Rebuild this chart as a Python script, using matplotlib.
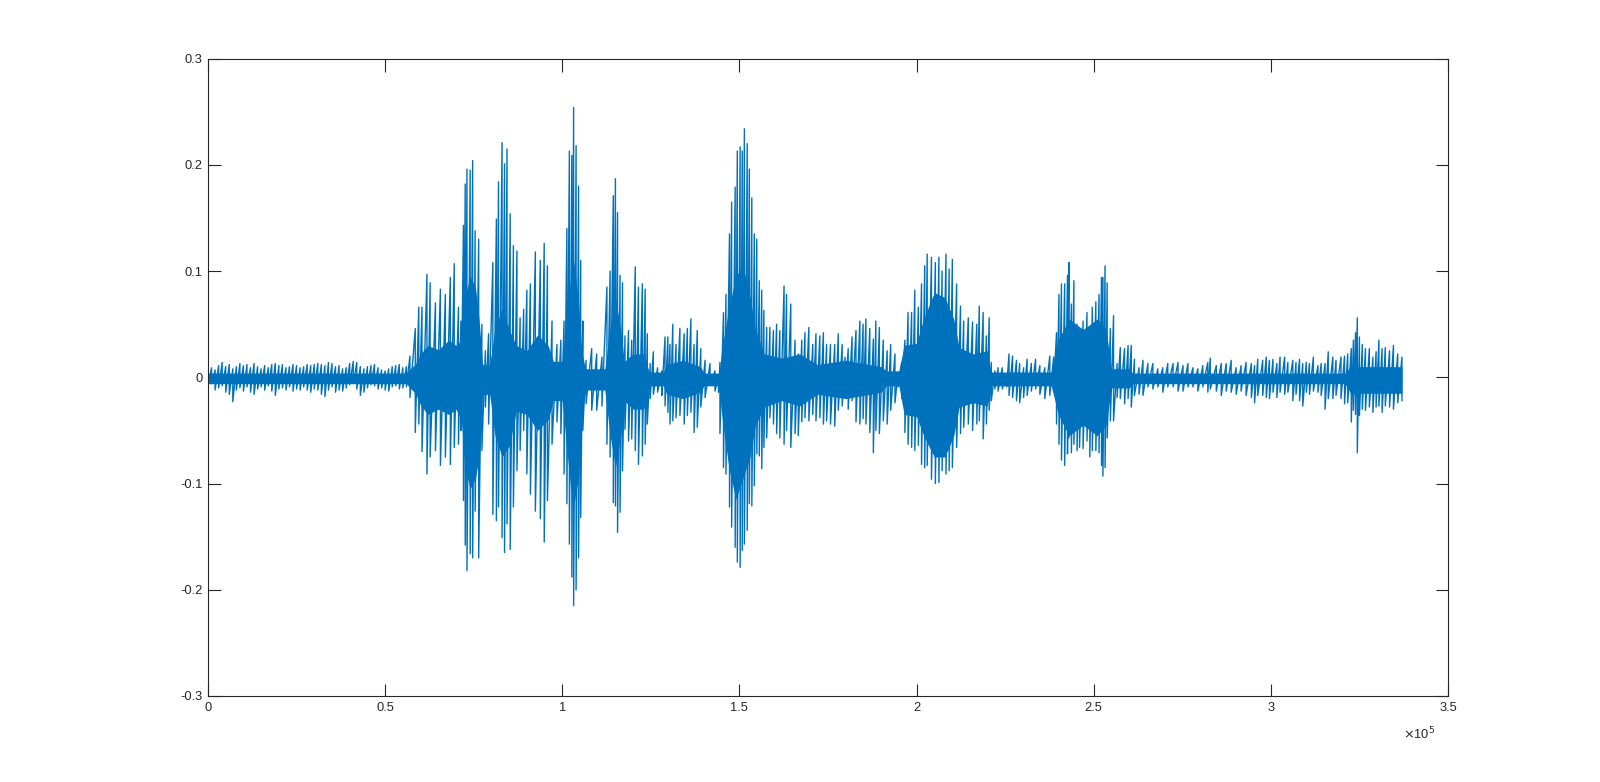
"""
Waveform plot in MATLAB default style: one audio channel vs. sample index.
"""

import matplotlib
matplotlib.use("Agg")
import matplotlib.pyplot as plt
import numpy as np

# Spike readings: sample position (thousands of samples), local max and local min
sample_k = [
    0, 1, 2, 3, 4, 5, 6, 7, 8, 9, 10, 11, 12, 13, 14, 15, 16, 17, 18, 19,
    20, 21, 22, 23, 24, 25, 26, 27, 28, 29, 30, 31, 32, 33, 34, 35, 36, 37, 38, 39,
    40, 41, 42, 43, 44, 45, 46, 47, 48, 49, 50, 51, 52, 53, 54, 55, 56, 57,
    58.5, 59.5, 60.4, 61.8, 62.7, 64.2, 65.6, 67.0, 68.4, 69.5, 70.7, 71.4, 72.1, 72.6,
    73.1, 74.0, 74.7, 75.4, 76.4, 77.3, 78.3, 79.2, 80.4, 81.4, 82.0, 83.0, 83.7, 84.4,
    85.3, 86.2, 87.2, 88.1, 89.1, 90.0, 91.0, 92.4, 93.8, 94.9, 95.8, 97.1, 98.5, 99.6,
    100.5, 101.3, 102.0, 102.7, 103.2, 103.9, 104.6, 105.2, 105.8, 106.7, 108.3, 109.7,
    111.2, 112.6,
    113.5, 114.4, 115.0, 115.6, 116.3, 117.0, 117.7, 118.7, 119.6, 120.6, 121.5, 122.6,
    123.4, 124.0, 124.8, 125.7, 126.9, 128.1, 129.0, 129.8, 130.4, 131.2, 132.1, 133.2,
    134.4, 135.3, 136.3, 137.2, 138.1, 139.1, 140.3, 141.7, 143.1, 144.1, 144.5, 145.5,
    146.2, 147.2, 147.8, 148.8, 149.4, 150.2, 150.8, 151.4, 152.2, 152.8, 153.5, 154.2,
    154.9, 155.6, 156.3, 156.9, 157.7, 158.6, 159.6, 160.5, 161.4, 162.6, 163.3, 164.5,
    165.7,
    166.6, 167.6, 168.5, 169.6, 170.7, 171.6, 172.7, 173.7, 174.6, 175.7, 176.9, 177.9,
    179.0, 179.8, 180.7, 181.8, 182.9, 184.0, 184.9, 185.7, 186.8, 187.8, 188.5, 189.5,
    190.6, 191.7, 192.7, 193.9, 194.8, 195.8, 196.7, 197.6, 198.6, 199.5, 200.5, 201.4,
    202.3, 203.0, 204.2, 205.3, 206.3, 207.2, 208.3, 209.2, 210.1, 211.3, 212.4, 213.3,
    214.6, 215.8, 217.0, 217.7, 218.8, 219.7, 220.5,
    221.1, 222.1, 223.0, 224.2, 225.4, 226.1, 227.1, 228.2, 229.1, 230.2, 231.2, 232.4,
    233.6, 234.8, 236.2, 237.6, 238.7, 239.5, 240.2, 240.9, 241.8, 242.6, 243.0, 243.7,
    244.4, 245.3, 246.0, 247.0, 248.1, 248.9, 249.6, 250.6, 251.5, 252.2, 252.6, 253.2,
    253.8, 254.7, 255.6, 256.6, 257.5, 258.7, 259.7, 260.6, 261.5, 262.8, 263.9, 265.3,
    266.7, 268.1, 269.5, 270.9, 272.4, 273.8,
    275.2, 276.6, 278.0, 279.4, 280.8, 282.2, 282.9, 284.6, 286.0, 287.4, 288.8, 290.2,
    291.6, 293.0, 294.5, 295.4, 296.3, 297.7, 298.7, 299.6, 300.6, 301.7, 302.6, 303.9,
    304.8, 306.2, 307.1, 308.1, 309.0, 310.0, 310.9, 312.0, 313.3, 314.2, 315.3, 316.2,
    317.5, 318.4, 319.8, 320.8, 321.7, 322.7, 323.3, 323.9, 324.4, 325.0, 325.8, 326.7,
    327.8, 328.8, 329.7, 330.5, 331.4, 332.3, 333.5, 334.6, 335.8, 337.0,
]

env_hi = [
    0.006, 0.009, 0.007, 0.011, 0.014, 0.010, 0.012, 0.008, 0.010, 0.013, 0.011, 0.012,
    0.009, 0.013, 0.010, 0.008, 0.011, 0.009, 0.012, 0.013, 0.011, 0.012, 0.009, 0.010,
    0.012, 0.011, 0.009, 0.010, 0.012, 0.011, 0.012, 0.013, 0.012, 0.011, 0.014, 0.013,
    0.010, 0.011, 0.008, 0.009, 0.013, 0.015, 0.014, 0.010, 0.008, 0.010, 0.011, 0.012,
    0.009, 0.007, 0.006, 0.008, 0.010, 0.011, 0.012, 0.009, 0.010, 0.020,
    0.046, 0.066, 0.066, 0.097, 0.089, 0.070, 0.083, 0.078, 0.094, 0.107, 0.066, 0.053,
    0.143, 0.182, 0.196, 0.195, 0.204, 0.138, 0.130, 0.050, 0.025, 0.041, 0.108, 0.149,
    0.184, 0.221, 0.201, 0.215, 0.154, 0.124, 0.119, 0.056, 0.064, 0.082, 0.088, 0.118,
    0.110, 0.126, 0.105, 0.053, 0.031, 0.035, 0.053, 0.140, 0.213, 0.209, 0.254, 0.218,
    0.180, 0.110, 0.053, 0.016, 0.027, 0.022, 0.019, 0.085,
    0.100, 0.171, 0.187, 0.155, 0.096, 0.089, 0.039, 0.044, 0.035, 0.104, 0.085, 0.088,
    0.083, 0.041, 0.013, 0.024, 0.009, 0.006, 0.038, 0.038, 0.031, 0.050, 0.031, 0.046,
    0.041, 0.046, 0.055, 0.031, 0.044, 0.027, 0.016, 0.013, 0.006, 0.000, 0.014, 0.061,
    0.078, 0.135, 0.165, 0.179, 0.213, 0.217, 0.213, 0.234, 0.220, 0.196, 0.169, 0.135,
    0.130, 0.091, 0.082, 0.063, 0.047, 0.047, 0.044, 0.050, 0.044, 0.086, 0.078, 0.069,
    0.035,
    0.022, 0.035, 0.042, 0.047, 0.031, 0.041, 0.039, 0.042, 0.031, 0.031, 0.031, 0.041,
    0.031, 0.019, 0.027, 0.038, 0.044, 0.053, 0.050, 0.055, 0.046, 0.036, 0.053, 0.047,
    0.035, 0.025, 0.031, 0.022, 0.005, 0.014, 0.035, 0.061, 0.061, 0.082, 0.066, 0.088,
    0.105, 0.116, 0.113, 0.108, 0.113, 0.100, 0.116, 0.102, 0.111, 0.088, 0.067, 0.053,
    0.056, 0.052, 0.050, 0.067, 0.061, 0.039, 0.056,
    0.014, 0.006, 0.009, 0.009, 0.003, 0.022, 0.020, 0.016, 0.013, 0.009, 0.017, 0.013,
    0.017, 0.011, 0.009, 0.020, 0.019, 0.042, 0.078, 0.088, 0.088, 0.096, 0.108, 0.069,
    0.091, 0.050, 0.038, 0.053, 0.061, 0.047, 0.066, 0.071, 0.078, 0.094, 0.094, 0.105,
    0.089, 0.046, 0.058, 0.013, 0.028, 0.027, 0.030, 0.030, 0.017, 0.009, 0.016, 0.013,
    0.013, 0.008, 0.009, 0.013, 0.013, 0.014,
    0.011, 0.013, 0.009, 0.008, 0.011, 0.014, 0.018, 0.011, 0.013, 0.013, 0.016, 0.009,
    0.011, 0.014, 0.013, 0.011, 0.017, 0.016, 0.019, 0.016, 0.017, 0.013, 0.019, 0.019,
    0.014, 0.016, 0.014, 0.017, 0.013, 0.014, 0.013, 0.019, 0.011, 0.013, 0.013, 0.024,
    0.019, 0.016, 0.019, 0.020, 0.022, 0.027, 0.035, 0.042, 0.056, 0.038, 0.031, 0.027,
    0.027, 0.019, 0.024, 0.035, 0.027, 0.028, 0.025, 0.030, 0.022, 0.019,
]

env_lo = [
    -0.008, -0.006, -0.012, -0.010, -0.008, -0.014, -0.016, -0.023, -0.012, -0.010, -0.013, -0.009,
    -0.014, -0.016, -0.011, -0.009, -0.012, -0.008, -0.013, -0.017, -0.011, -0.010, -0.012, -0.009,
    -0.013, -0.011, -0.012, -0.009, -0.012, -0.014, -0.011, -0.012, -0.016, -0.018, -0.012, -0.009,
    -0.014, -0.012, -0.013, -0.010, -0.007, -0.006, -0.011, -0.017, -0.014, -0.010, -0.007, -0.008,
    -0.011, -0.010, -0.012, -0.013, -0.009, -0.008, -0.011, -0.010, -0.009, -0.019,
    -0.052, -0.044, -0.070, -0.091, -0.075, -0.069, -0.083, -0.075, -0.082, -0.066, -0.063, -0.050,
    -0.116, -0.158, -0.182, -0.166, -0.170, -0.126, -0.170, -0.069, -0.028, -0.044, -0.129, -0.135,
    -0.122, -0.151, -0.165, -0.138, -0.162, -0.122, -0.088, -0.069, -0.050, -0.091, -0.110, -0.126,
    -0.133, -0.155, -0.116, -0.063, -0.042, -0.053, -0.091, -0.119, -0.157, -0.188, -0.215, -0.200,
    -0.170, -0.132, -0.050, -0.025, -0.031, -0.031, -0.027, -0.063,
    -0.075, -0.118, -0.121, -0.146, -0.127, -0.088, -0.049, -0.060, -0.058, -0.069, -0.082, -0.074,
    -0.063, -0.044, -0.020, -0.016, -0.014, -0.017, -0.027, -0.033, -0.044, -0.041, -0.038, -0.036,
    -0.044, -0.036, -0.033, -0.052, -0.047, -0.028, -0.019, -0.006, -0.013, -0.014, -0.053, -0.085,
    -0.091, -0.122, -0.141, -0.160, -0.174, -0.179, -0.163, -0.157, -0.144, -0.119, -0.121, -0.102,
    -0.072, -0.074, -0.086, -0.066, -0.057, -0.038, -0.044, -0.053, -0.057, -0.063, -0.050, -0.066,
    -0.053,
    -0.055, -0.042, -0.038, -0.041, -0.035, -0.041, -0.038, -0.044, -0.041, -0.044, -0.046, -0.031,
    -0.027, -0.019, -0.030, -0.022, -0.042, -0.044, -0.039, -0.044, -0.052, -0.071, -0.050, -0.053,
    -0.041, -0.044, -0.031, -0.024, -0.009, -0.020, -0.052, -0.063, -0.066, -0.069, -0.064, -0.082,
    -0.085, -0.083, -0.096, -0.100, -0.099, -0.088, -0.091, -0.088, -0.085, -0.066, -0.053, -0.047,
    -0.044, -0.050, -0.044, -0.041, -0.058, -0.044, -0.031,
    -0.022, -0.011, -0.013, -0.011, -0.009, -0.017, -0.019, -0.022, -0.024, -0.019, -0.017, -0.013,
    -0.011, -0.016, -0.020, -0.017, -0.011, -0.044, -0.063, -0.078, -0.083, -0.072, -0.057, -0.071,
    -0.063, -0.069, -0.066, -0.067, -0.060, -0.075, -0.069, -0.069, -0.071, -0.083, -0.093, -0.085,
    -0.057, -0.041, -0.041, -0.019, -0.020, -0.025, -0.020, -0.028, -0.017, -0.016, -0.017, -0.009,
    -0.011, -0.009, -0.014, -0.009, -0.009, -0.013,
    -0.013, -0.009, -0.009, -0.013, -0.009, -0.014, -0.011, -0.013, -0.017, -0.013, -0.014, -0.016,
    -0.013, -0.017, -0.019, -0.024, -0.017, -0.017, -0.019, -0.020, -0.014, -0.019, -0.014, -0.016,
    -0.014, -0.022, -0.016, -0.022, -0.027, -0.014, -0.016, -0.013, -0.014, -0.017, -0.030, -0.020,
    -0.020, -0.017, -0.020, -0.025, -0.024, -0.042, -0.031, -0.035, -0.071, -0.036, -0.030, -0.031,
    -0.028, -0.033, -0.028, -0.027, -0.033, -0.027, -0.028, -0.030, -0.024, -0.022,
]

# Solid core of the waveform (where the trace is fully filled in)
core_k = [
    0, 56, 57, 58.5, 60, 62, 65, 68, 70, 71.5, 72.5, 74, 75.5, 76.5, 77.5, 79.5,
    81, 83, 85, 87, 90, 93, 96, 97.5, 100, 101.5, 103, 104.5, 105.5, 106.5, 112,
    113.5, 115, 116.5, 117.5, 120, 123, 124.5, 128.5, 129.5, 134, 139, 140, 144.2,
    145, 147, 149, 151, 153, 154.5, 157, 162, 167, 172, 180, 190, 191.5, 195, 196.5, 200,
    202, 205, 208, 210.5, 212, 216, 220, 221, 238, 240, 243, 247, 251, 253.5, 255,
    260, 261, 321, 322.5, 337,
]
core_hi = [
    0.004, 0.004, 0.008, 0.012, 0.022, 0.030, 0.026, 0.035, 0.030, 0.035, 0.075, 0.095,
    0.085, 0.055, 0.012, 0.012,
    0.045, 0.065, 0.045, 0.030, 0.025, 0.040, 0.030, 0.015, 0.015, 0.065, 0.115, 0.075,
    0.025, 0.008, 0.008,
    0.045, 0.075, 0.045, 0.015, 0.022, 0.022, 0.005, 0.005, 0.012, 0.016, 0.010, 0.004, 0.004,
    0.025, 0.065, 0.095, 0.105, 0.075, 0.045, 0.022, 0.018, 0.022, 0.012, 0.016, 0.010,
    0.006, 0.006, 0.030, 0.032,
    0.055, 0.080, 0.075, 0.055, 0.028, 0.022, 0.025, 0.005, 0.005, 0.035, 0.055, 0.045, 0.055,
    0.045, 0.008,
    0.008, 0.004, 0.004, 0.010, 0.010,
]
core_lo = [
    -0.006, -0.006, -0.010, -0.015, -0.026, -0.035, -0.030, -0.035, -0.030, -0.040, -0.085, -0.105,
    -0.095, -0.075, -0.016, -0.016,
    -0.055, -0.075, -0.065, -0.032, -0.035, -0.050, -0.040, -0.022, -0.022, -0.075, -0.125, -0.095,
    -0.035, -0.012, -0.012,
    -0.055, -0.085, -0.055, -0.022, -0.030, -0.030, -0.008, -0.008, -0.016, -0.020, -0.014, -0.008, -0.008,
    -0.035, -0.085, -0.115, -0.095, -0.075, -0.045, -0.028, -0.022, -0.027, -0.016, -0.020, -0.014,
    -0.008, -0.008, -0.035, -0.037,
    -0.055, -0.075, -0.075, -0.055, -0.028, -0.024, -0.027, -0.008, -0.008, -0.035, -0.055, -0.045, -0.055,
    -0.045, -0.010,
    -0.010, -0.006, -0.006, -0.015, -0.015,
]

X_TICKS = [0, 0.5, 1, 1.5, 2, 2.5, 3, 3.5]
Y_TICKS = [-0.3, -0.2, -0.1, 0, 0.1, 0.2, 0.3]

LINE_COLOR = "#0072BD"
AXIS_COLOR = "#262626"


def waveform_trace(pos_k, hi, lo):
    """Alternate max/min at each reading so the trace draws vertical strokes."""
    x = np.repeat(np.asarray(pos_k) * 1000.0, 2)
    y = np.empty(2 * len(hi))
    y[0::2] = hi
    y[1::2] = lo
    return x, y


def main() -> None:
    plt.rcParams["font.family"] = ["Liberation Sans", "DejaVu Sans"]

    fig = plt.figure(figsize=(16, 7.82), dpi=100)
    ax = fig.add_axes([0.13, 0.11, 0.775, 0.815])

    ax.fill_between(np.asarray(core_k) * 1000.0, core_lo, core_hi,
                    color=LINE_COLOR, linewidth=0)
    x, y = waveform_trace(sample_k, env_hi, env_lo)
    ax.plot(x, y, color=LINE_COLOR, linewidth=1.0)

    ax.set_xlim(0, 3.5e5)
    ax.set_ylim(-0.3, 0.3)
    ax.set_xticks([t * 1e5 for t in X_TICKS])
    ax.set_xticklabels([f"{t:g}" for t in X_TICKS])
    ax.set_yticks(Y_TICKS)
    ax.set_yticklabels([f"{t:g}" for t in Y_TICKS])

    ax.tick_params(direction="in", length=9, width=0.8, colors=AXIS_COLOR,
                   labelsize=9.3, top=True, right=True, pad=4)
    for spine in ax.spines.values():
        spine.set_color(AXIS_COLOR)
        spine.set_linewidth(0.8)

    ax.text(0.99, -0.059, r"$\times$10$^{5}$", transform=ax.transAxes,
            ha="right", va="center", fontsize=9.3, color=AXIS_COLOR)

    fig.savefig("out.png", dpi=100, facecolor="white")
    plt.close(fig)


if __name__ == "__main__":
    main()
